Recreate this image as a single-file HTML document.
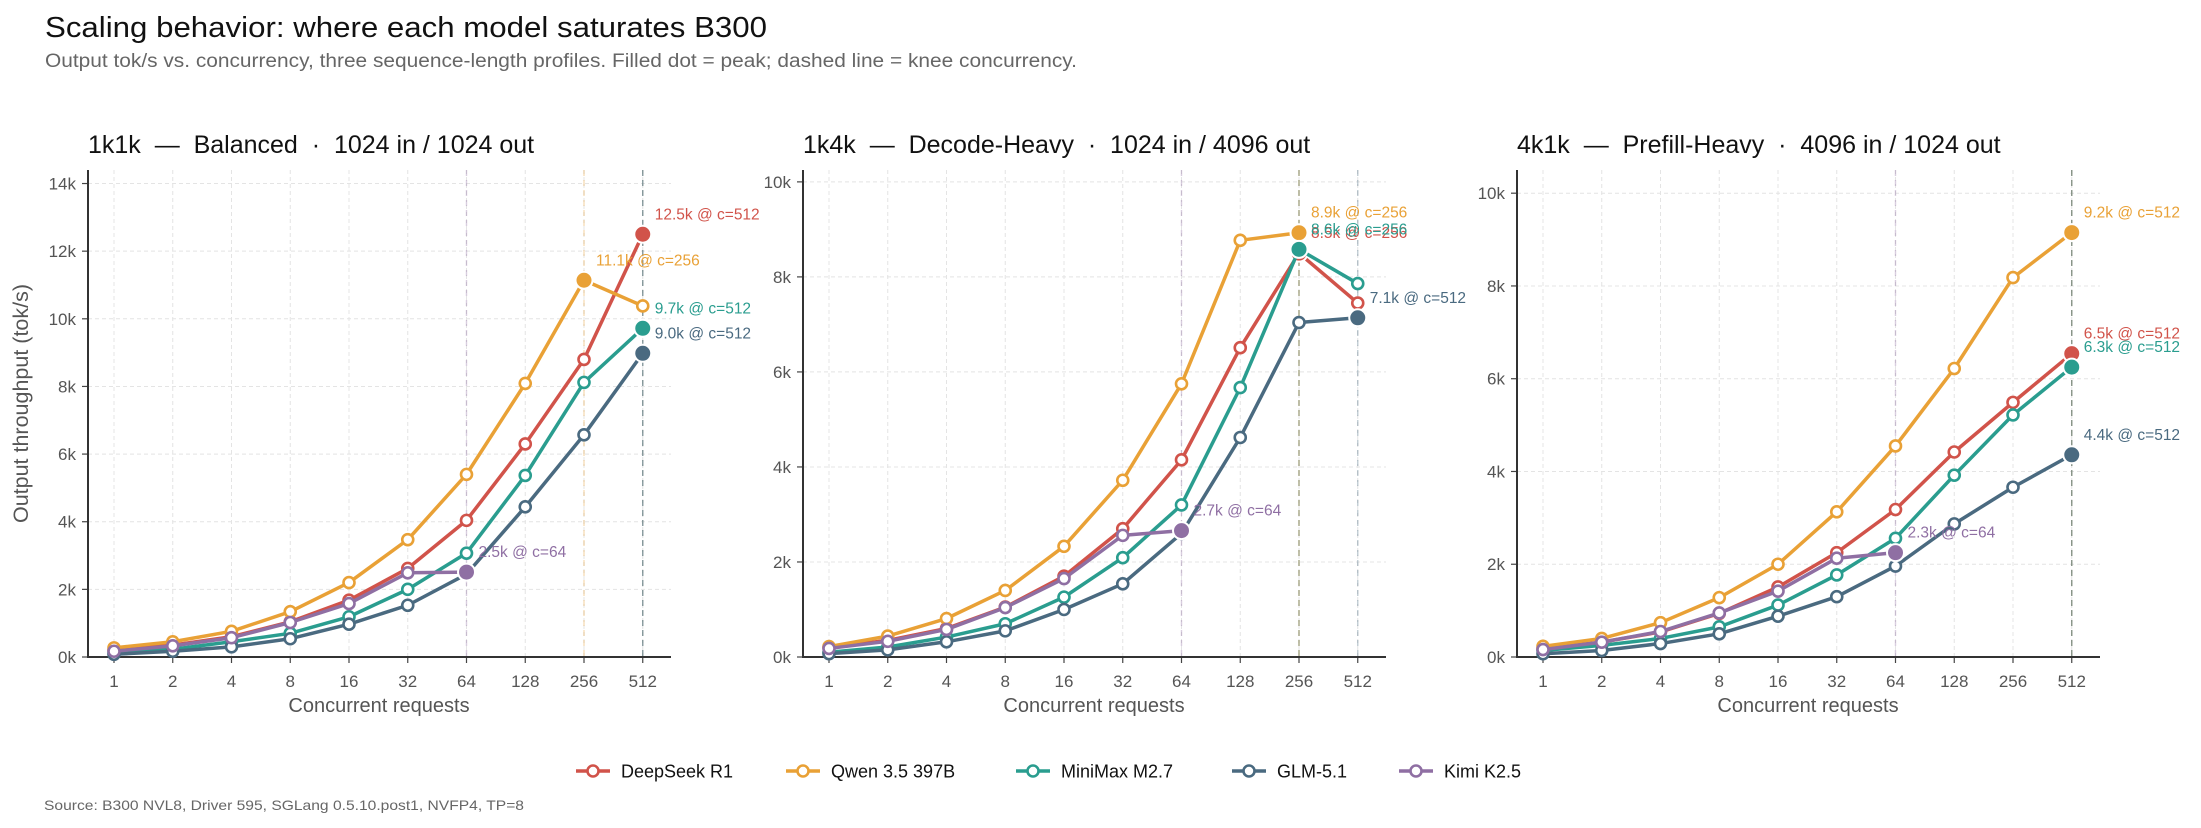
<!DOCTYPE html>
<html><head><meta charset="utf-8"><style>
html,body{margin:0;padding:0;background:#fff;}
svg{display:block;font-family:"Liberation Sans",Arial,sans-serif;}
</style></head><body>
<svg id="chart" width="2201" height="828" viewBox="0 0 2201 828" xmlns="http://www.w3.org/2000/svg">
<text x="45" y="37" font-size="29" fill="#111" textLength="722" lengthAdjust="spacingAndGlyphs">Scaling behavior: where each model saturates B300</text>
<text x="45" y="67" font-size="19" fill="#666" textLength="1032" lengthAdjust="spacingAndGlyphs">Output tok/s vs. concurrency, three sequence-length profiles. Filled dot = peak; dashed line = knee concurrency.</text>
<text x="44" y="810" font-size="14" fill="#666" textLength="480" lengthAdjust="spacingAndGlyphs">Source: B300 NVL8, Driver 595, SGLang 0.5.10.post1, NVFP4, TP=8</text>
<g id="legend"></g>
</svg>
<script>
const categories = [1,2,4,8,16,32,64,128,256,512];
const modelNames = ["DeepSeek R1","Qwen 3.5 397B","MiniMax M2.7","GLM-5.1","Kimi K2.5"];
const modelColors = ["#d1534a","#e9a136","#2a9d8f","#4a6a80","#8f6fa3"];
const panelTitles = ["1k1k  —  Balanced  ·  1024 in / 1024 out","1k4k  —  Decode-Heavy  ·  1024 in / 4096 out","4k1k  —  Prefill-Heavy  ·  4096 in / 1024 out"];
const yTicks1 = [0,2,4,6,8,10,12,14];
const yTicks2 = [0,2,4,6,8,10];
const yTicks3 = [0,2,4,6,8,10];
const yMax = [14.4,10.25,10.5];
// Panel 1 (1k1k) values, k tok/s
const p1DeepSeek = [0.2,0.35,0.6,1.04,1.68,2.62,4.04,6.3,8.8,12.5];
const p1Qwen = [0.27,0.45,0.76,1.34,2.2,3.47,5.4,8.09,11.14,10.38];
const p1MiniMax = [0.12,0.23,0.45,0.7,1.19,2.0,3.07,5.37,8.12,9.72];
const p1GLM = [0.08,0.17,0.3,0.54,0.97,1.53,2.45,4.44,6.57,8.98];
const p1Kimi = [0.17,0.33,0.57,1.02,1.58,2.49,2.51];
// Panel 2 (1k4k)
const p2DeepSeek = [0.2,0.35,0.6,1.05,1.7,2.7,4.15,6.51,8.5,7.45];
const p2Qwen = [0.22,0.44,0.81,1.4,2.33,3.72,5.75,8.77,8.93];
const p2MiniMax = [0.1,0.21,0.42,0.7,1.26,2.09,3.2,5.67,8.58,7.86];
const p2GLM = [0.07,0.15,0.32,0.55,1.0,1.54,2.6,4.62,7.04,7.14];
const p2Kimi = [0.18,0.33,0.58,1.04,1.65,2.56,2.66];
// Panel 3 (4k1k)
const p3DeepSeek = [0.18,0.32,0.54,0.94,1.51,2.25,3.18,4.42,5.49,6.54];
const p3Qwen = [0.23,0.4,0.74,1.28,2.0,3.13,4.55,6.22,8.18,9.15];
const p3MiniMax = [0.14,0.25,0.4,0.65,1.12,1.77,2.56,3.92,5.22,6.25];
const p3GLM = [0.07,0.14,0.29,0.5,0.88,1.3,1.96,2.87,3.66,4.36];
const p3Kimi = [0.16,0.32,0.55,0.95,1.42,2.13,2.25];

const panelSeries = [
  [p1DeepSeek,p1Qwen,p1MiniMax,p1GLM,p1Kimi],
  [p2DeepSeek,p2Qwen,p2MiniMax,p2GLM,p2Kimi],
  [p3DeepSeek,p3Qwen,p3MiniMax,p3GLM,p3Kimi]
];
const panelTicks = [yTicks1,yTicks2,yTicks3];
const NS = "http://www.w3.org/2000/svg";
const svg = document.getElementById('chart');
function mk(tag, attrs, parent){
  const e = document.createElementNS(NS, tag);
  for (const k in attrs) e.setAttribute(k, attrs[k]);
  (parent||svg).appendChild(e);
  return e;
}
const axLeft = [88,803,1517];
const plotW = 583;
const yBottom = 657, yTop = 170;
const catStep = 58.75, catOff = 26;

for (let p=0;p<3;p++){
  const L = axLeft[p];
  const xScale = i => L + catOff + i*catStep;
  const yScale = v => yBottom - v/yMax[p]*(yBottom-yTop);
  const g = mk('g',{});
  
  
  const t = mk('text',{x:L,y:153,'font-size':25,fill:'#111'},g);
  
  
  t.setAttribute('style','white-space:pre');
  t.textContent = panelTitles[p];
  categories.forEach((c,i)=>{
    const gl = mk('line',{x1:xScale(i),x2:xScale(i),y1:yTop,y2:yBottom,stroke:'#e4e4e4','stroke-width':1,'stroke-dasharray':'4 3'},g);
    
    
    const tm = mk('line',{x1:xScale(i),x2:xScale(i),y1:yBottom,y2:yBottom+6,stroke:'#444','stroke-width':1.2},g);
    
    
    const tl = mk('text',{x:xScale(i),y:yBottom+30,'font-size':17,fill:'#555','text-anchor':'middle'},g);
    
    
    tl.textContent = c;
  });
  panelTicks[p].forEach(v=>{
    const y = yScale(v);
    if (v>0){
      const gl = mk('line',{x1:L,x2:L+plotW,y1:y,y2:y,stroke:'#e4e4e4','stroke-width':1,'stroke-dasharray':'4 3'},g);
      
      
    }
    const tm = mk('line',{x1:L-6,x2:L,y1:y,y2:y,stroke:'#444','stroke-width':1.2},g);
    
    
    const tl = mk('text',{x:L-12,y:y+6,'font-size':17,fill:'#555','text-anchor':'end'},g);
    
    
    tl.textContent = v+'k';
  });
  const series = panelSeries[p];
  const peaks = series.map(s=>{let m=0;s.forEach((v,i)=>{if(v>=s[m])m=i;});return m;});
  peaks.forEach((pi,si)=>{
    const kl = mk('line',{x1:xScale(pi),x2:xScale(pi),y1:yTop,y2:yBottom,stroke:modelColors[si],'stroke-opacity':0.35,'stroke-width':1.4,'stroke-dasharray':'6 4'},g);
    
    
  });
  const ax = mk('line',{x1:L,x2:L,y1:yTop,y2:yBottom+1,stroke:'#333','stroke-width':2},g);
  
  
  const bx = mk('line',{x1:L-1,x2:L+plotW,y1:yBottom,y2:yBottom,stroke:'#333','stroke-width':2},g);
  
  
  const xt = mk('text',{x:L+291,y:yBottom+55,'font-size':20,fill:'#555','text-anchor':'middle'},g);
  
  
  xt.textContent = 'Concurrent requests';
  if (p===0){
    const yt = mk('text',{x:0,y:0,'font-size':21.5,fill:'#555','text-anchor':'middle',transform:'translate(28,'+((yTop+yBottom)/2-10)+') rotate(-90)'},g);
    
    
    yt.textContent = 'Output throughput (tok/s)';
  }
  series.forEach((s,si)=>{
    const col = modelColors[si];
    const sg = mk('g',{},g);
    
    
    const pts = s.map((v,i)=>xScale(i)+','+yScale(v)).join(' ');
    const pl = mk('polyline',{points:pts,fill:'none',stroke:col,'stroke-width':3.5,'stroke-linejoin':'round'},sg);
    
    
    s.forEach((v,i)=>{
      if (i===peaks[si]) return;
      const c = mk('circle',{cx:xScale(i),cy:yScale(v),r:5.5,fill:'#fff',stroke:col,'stroke-width':2.6},sg);
      
      
    });
    const pi = peaks[si];
    const pc = mk('circle',{cx:xScale(pi),cy:yScale(s[pi]),r:8.5,fill:col,stroke:'#fff','stroke-width':2},sg);
    
    
    const lab = mk('text',{x:xScale(pi)+12,y:yScale(s[pi])-15,'font-size':15.5,fill:col},sg);
    
    
    lab.textContent = s[pi].toFixed(1)+'k @ c='+categories[pi];
  });
}
const legend = document.getElementById('legend');
const legX = [593,803,1033,1249,1416];
modelNames.forEach((n,i)=>{
  const lg = mk('g',{},legend);
  
  
  mk('line',{x1:legX[i]-17,x2:legX[i]+17,y1:771,y2:771,stroke:modelColors[i],'stroke-width':3.5},lg);
  mk('circle',{cx:legX[i],cy:771,r:5.5,fill:'#fff',stroke:modelColors[i],'stroke-width':2.6},lg);
  const t = mk('text',{x:legX[i]+28,y:777.5,'font-size':18,fill:'#111'},lg);
  t.textContent = n;
});
</script>
</body></html>
